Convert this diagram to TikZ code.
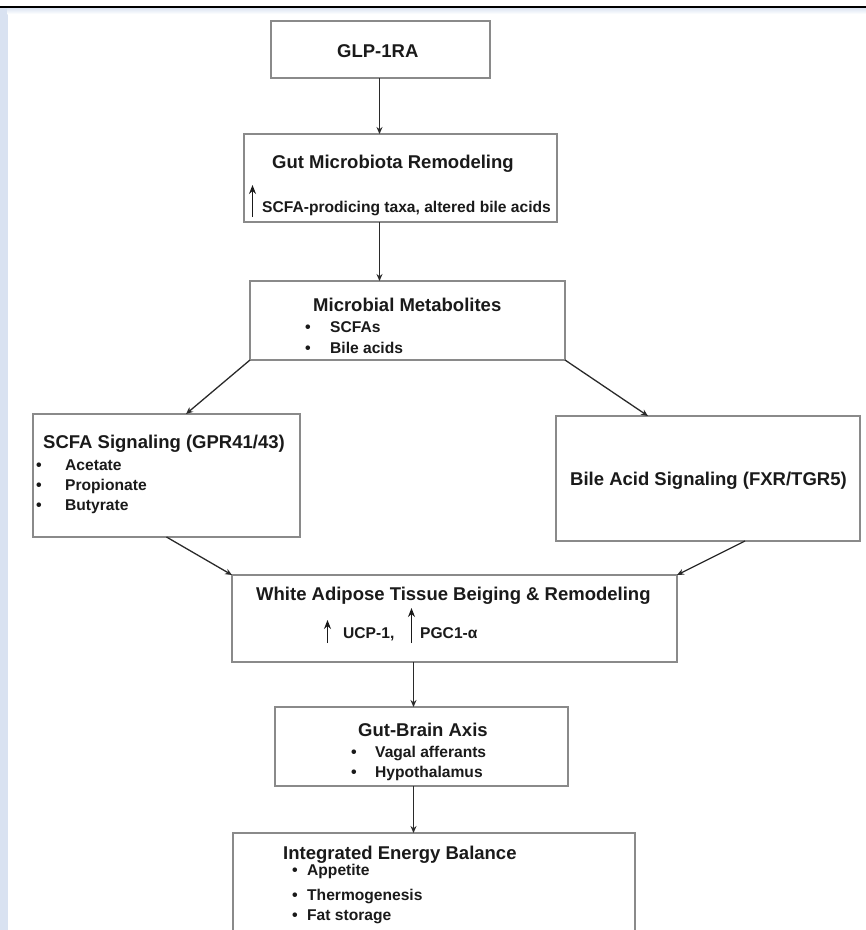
\documentclass[tikz,border=0pt]{standalone}
\usepackage{fontspec}
\setmainfont{Liberation Sans}
\usetikzlibrary{arrows.meta,calc}
\definecolor{stripblue}{HTML}{D9E2F1}
\definecolor{boxgray}{HTML}{8A8A8A}
\definecolor{txt}{HTML}{1A1A1A}
\definecolor{arr}{HTML}{2A2A2A}
\tikzset{
  box/.style={draw=boxgray, line width=1.4pt, fill=white, inner sep=0pt, outer sep=0pt},
  ttl/.style={anchor=base west, inner sep=0pt, text=txt, font=\bfseries\fontsize{18.5}{20}\selectfont},
  itm/.style={anchor=base west, inner sep=0pt, text=txt, font=\bfseries\fontsize{15.6}{18}\selectfont},
  bul/.style={anchor=base west, inner sep=0pt, text=txt, font=\bfseries\fontsize{16}{18}\selectfont},
  conn/.style={draw=arr, line width=1.3pt, -{Stealth[length=7pt,width=6pt]}},
  uparr/.style={draw=txt, line width=1.3pt, -{Stealth[length=9pt,width=7pt]}}
}
\newcommand{\boxat}[5]{\node[box, minimum width=#4pt, minimum height=#5pt] (#1) at (#2,#3) {};}
\begin{document}
\begin{tikzpicture}[x=1pt,y=-1pt]
\useasboundingbox (0,0) rectangle (866,930);
% frame decoration
\fill[stripblue] (0,8) rectangle (7.5,930);
\shade[top color=stripblue, bottom color=white] (7.5,7.5) rectangle (866,14);
\draw[black, line width=2.2pt] (0,6.6) -- (866,6.6);

% boxes (centre x, centre y, width, height)
\boxat{glp}{380.5}{49.5}{219}{57}
\boxat{gut}{400.5}{178}{313}{88}
\boxat{mm}{407.5}{320.5}{315}{79}
\boxat{scfa}{166.5}{475.5}{267}{123}
\boxat{bile}{708}{478.5}{304}{125}
\boxat{wat}{454.5}{618.5}{445}{87}
\boxat{gb}{421.5}{746.5}{293}{79}
\node[box, minimum width=402pt, minimum height=110pt] (ieb) at (434,888) {};

% texts
\node[ttl] (tglp) at (337,57) {GLP-1RA};

\node[ttl] (tgut) at (272,168) {Gut Microbiota Remodeling};
\node[itm] (tgut2) at (262,212) {SCFA-prodicing taxa, altered bile acids};
\coordinate (ga1) at (252.5,217);
\coordinate (ga2) at (252.5,185);
\draw[uparr] (ga1) -- (ga2);

\node[ttl] (tmm) at (313,311) {Microbial Metabolites};
\node[bul] (bmm1) at (305,332) {•};
\node[itm] (imm1) at (330,332) {SCFAs};
\node[bul] (bmm2) at (305,353) {•};
\node[itm] (imm2) at (330,353) {Bile acids};

\node[ttl] (tscfa) at (43,448) {SCFA Signaling (GPR41/43)};
\node[bul] (bs1) at (36,470) {•};
\node[itm] (is1) at (65,470) {Acetate};
\node[bul] (bs2) at (36,490) {•};
\node[itm] (is2) at (65,490) {Propionate};
\node[bul] (bs3) at (36,510) {•};
\node[itm] (is3) at (65,510) {Butyrate};

\node[ttl] (tbile) at (570,485) {Bile Acid Signaling (FXR/TGR5)};

\node[ttl] (twat) at (256,600) {White Adipose Tissue Beiging \& Remodeling};
\coordinate (wa1) at (327.5,643);
\coordinate (wa2) at (327.5,620);
\draw[uparr] (wa1) -- (wa2);
\node[itm] (iw1) at (343,638) {UCP-1,};
\coordinate (wb1) at (411.5,643);
\coordinate (wb2) at (411.5,608);
\draw[uparr] (wb1) -- (wb2);
\node[itm] (iw2) at (420,638) {PGC1-α};

\node[ttl] (tgb) at (358,736) {Gut-Brain Axis};
\node[bul] (bg1) at (351,757) {•};
\node[itm] (ig1) at (375,757) {Vagal afferants};
\node[bul] (bg2) at (351,777) {•};
\node[itm] (ig2) at (375,777) {Hypothalamus};

\node[ttl] (tieb) at (283,859) {Integrated Energy Balance};
\node[bul] (bi1) at (292,875) {•};
\node[itm] (ii1) at (307,875) {Appetite};
\node[bul] (bi2) at (292,900) {•};
\node[itm] (ii2) at (307,900) {Thermogenesis};
\node[bul] (bi3) at (292,920) {•};
\node[itm] (ii3) at (307,920) {Fat storage};

% connectors
\coordinate (vx) at (379.5,0);
\coordinate (wx) at (413.5,0);
\draw[conn] (glp.south -| vx) -- (gut.north -| vx);
\draw[conn] (gut.south -| vx) -- (mm.north -| vx);
\draw[conn] (mm.south west) -- ([xshift=19.5pt]scfa.north);
\draw[conn] (mm.south east) -- ([xshift=-60pt]bile.north);
\draw[conn] (scfa.south) -- (wat.north west);
\draw[conn] ([xshift=37pt]bile.south) -- (wat.north east);
\draw[conn] (wat.south -| wx) -- (gb.north -| wx);
\draw[conn] (gb.south -| wx) -- (ieb.north -| wx);
\end{tikzpicture}
\end{document}
